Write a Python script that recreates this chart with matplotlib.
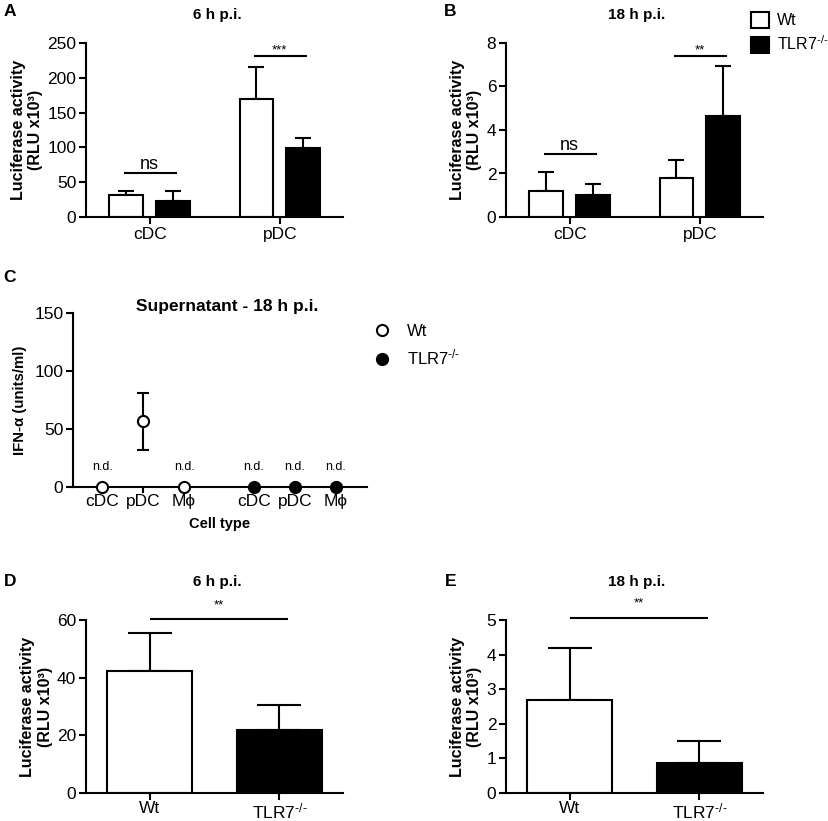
import matplotlib
matplotlib.use("Agg")
import matplotlib.pyplot as plt
from matplotlib.patches import Patch
from matplotlib.lines import Line2D
import numpy as np

plt.rcParams['font.family'] = ['Liberation Sans', 'DejaVu Sans']
plt.rcParams['mathtext.fontset'] = 'custom'
plt.rcParams['mathtext.rm'] = 'Liberation Sans'
plt.rcParams['mathtext.bf'] = 'Liberation Sans:bold'
plt.rcParams['mathtext.it'] = 'Liberation Sans:italic'

# ---------------- data ----------------
groups_ab = ["cDC", "pDC"]
a_wt = [31, 169]
a_wt_err = [7, 46]
a_ko = [23, 99]
a_ko_err = [15, 15]
a_sig = ["ns", "***"]
a_sig_y = [63, 231]
a_yticks = [0, 50, 100, 150, 200, 250]

b_wt = [1.2, 1.8]
b_wt_err = [0.85, 0.8]
b_ko = [1.0, 4.65]
b_ko_err = [0.5, 2.3]
b_sig = ["ns", "**"]
b_sig_y = [2.9, 7.4]
b_yticks = [0, 2, 4, 6, 8]

c_labels = ["cDC", "pDC", "Mϕ", "cDC", "pDC", "Mϕ"]
c_wt = [0, 57, 0]
c_wt_lo = [0, 25, 0]
c_wt_hi = [0, 24, 0]
c_ko = [0, 0, 0]
c_nd = [True, False, True, True, True, True]
c_yticks = [0, 50, 100, 150]

KO = "TLR7$^{\\mathregular{\u2010/\u2010}}$"
de_labels = ["Wt", KO]
d_vals = [42.3, 22.0]
d_err = [13.3, 8.5]
d_sig_y = 60.3
d_yticks = [0, 20, 40, 60]
e_vals = [2.7, 0.88]
e_err = [1.5, 0.62]
e_sig_y = 5.07
e_yticks = [0, 1, 2, 3, 4, 5]

W, H = 829, 821
fig = plt.figure(figsize=(W / 100, H / 100), dpi=100)

def ax_px(l, r, t, b):
    return fig.add_axes([l / W, 1 - b / H, (r - l) / W, (b - t) / H])

LW = 1.5
TS = 12.5

def style(ax):
    for s in ['top', 'right']:
        ax.spines[s].set_visible(False)
    for s in ['left', 'bottom']:
        ax.spines[s].set_linewidth(LW)
    ax.tick_params(axis='both', width=LW, length=5, labelsize=TS, direction='out', pad=2)

def ftext(x, y, s, **kw):
    fig.text(x / W, 1 - y / H, s, **kw)

ylab = "Luciferase activity\n(RLU x10³)"

def grouped(ax, wt, wte, ko, koe, sig, sigy, yt):
    x = np.arange(len(groups_ab))
    off, bw = 0.18, 0.26
    ax.bar(x - off, wt, bw, color='white', edgecolor='black', linewidth=LW, zorder=2)
    ax.bar(x + off, ko, bw, color='black', edgecolor='black', linewidth=LW, zorder=2)
    ax.errorbar(x - off, wt, yerr=[np.zeros(len(wt)), wte], fmt='none', ecolor='black',
                elinewidth=LW, capsize=6, capthick=LW, zorder=1)
    ax.errorbar(x + off, ko, yerr=[np.zeros(len(ko)), koe], fmt='none', ecolor='black',
                elinewidth=LW, capsize=6, capthick=LW, zorder=1)
    for i in range(len(x)):
        ax.plot([x[i] - off - 0.01, x[i] + off + 0.02], [sigy[i], sigy[i]], color='black', lw=LW)
        if sig[i] == "ns":
            ax.text(x[i], sigy[i], sig[i], ha='center', va='bottom', fontsize=13)
        else:
            ax.text(x[i], sigy[i], sig[i], ha='center', va='bottom', fontsize=9.5)
    ax.set_xlim(-0.49, 1.485)
    ax.set_ylim(0, yt[-1])
    ax.set_yticks(yt)
    ax.set_xticks(x)
    ax.set_xticklabels(groups_ab)
    style(ax)
    ax.set_ylabel(ylab, fontsize=11.5, fontweight='bold', labelpad=3)

# Panel A
axA = ax_px(86, 343, 43, 217)
grouped(axA, a_wt, a_wt_err, a_ko, a_ko_err, a_sig, a_sig_y, a_yticks)
# Panel B
axB = ax_px(506, 763, 43, 217)
grouped(axB, b_wt, b_wt_err, b_ko, b_ko_err, b_sig, b_sig_y, b_yticks)
handles = [Patch(facecolor='white', edgecolor='black', linewidth=LW),
           Patch(facecolor='black', edgecolor='black', linewidth=LW)]
fig.legend(handles, ["Wt", KO], loc='upper left', bbox_to_anchor=(740 / W, 1 - 1 / H),
           frameon=False, fontsize=11.5, handlelength=1.1, handleheight=1.1,
           handletextpad=0.5, labelspacing=0.4, borderpad=0.2)

# Panel C
axC = ax_px(73, 367, 313, 487)
cx = np.array([1, 2, 3, 4.7, 5.7, 6.7])
axC.errorbar(cx[:3], c_wt, yerr=[c_wt_lo, c_wt_hi], fmt='o', color='black', mfc='white',
             mec='black', mew=LW, ms=8, elinewidth=LW, capsize=4, capthick=LW,
             clip_on=False, zorder=3)
axC.plot(cx[3:], c_ko, 'o', color='black', ms=8, mew=LW, clip_on=False, zorder=3)
for i in range(len(cx)):
    if c_nd[i]:
        axC.text(cx[i], 12, "n.d.", ha='center', va='bottom', fontsize=9)
axC.set_xlim(0.29, 7.46)
axC.set_ylim(0, 150)
axC.set_yticks(c_yticks)
axC.set_xticks(cx)
axC.set_xticklabels(c_labels)
style(axC)
axC.tick_params(axis='x', length=4, pad=1)
axC.set_ylabel("IFN-α (units/ml)", fontsize=10.8, fontweight='bold', labelpad=5)
axC.set_xlabel("Cell type", fontsize=10.5, fontweight='bold', labelpad=6)
hC = [Line2D([], [], marker='o', ls='none', mfc='white', mec='black', mew=LW, ms=8),
      Line2D([], [], marker='o', ls='none', mfc='black', mec='black', mew=LW, ms=8)]
fig.legend(hC, ["Wt", KO], loc='upper left', bbox_to_anchor=(362 / W, 1 - 312 / H),
           frameon=False, fontsize=12, handlelength=1.0, handletextpad=1.0,
           labelspacing=0.55, borderpad=0.2)

def single(ax, vals, err, sigy, yt):
    x = np.arange(2)
    bw = 0.66
    ax.bar(x[0], vals[0], bw, color='white', edgecolor='black', linewidth=LW, zorder=2)
    ax.bar(x[1], vals[1], bw, color='black', edgecolor='black', linewidth=LW, zorder=2)
    ax.errorbar(x, vals, yerr=[np.zeros(2), err], fmt='none', ecolor='black',
                elinewidth=LW, capsize=16, capthick=LW, zorder=1)
    ax.plot([0.01, 1.06], [sigy, sigy], color='black', lw=LW, clip_on=False)
    ax.text(0.53, sigy + yt[-1] * 0.045, "**", ha='center', va='bottom', fontsize=9.5)
    ax.set_xlim(-0.49, 1.49)
    ax.set_ylim(0, yt[-1])
    ax.set_yticks(yt)
    ax.set_xticks(x)
    ax.set_xticklabels(de_labels)
    style(ax)
    ax.tick_params(axis='x', pad=1)
    ax.set_ylabel(ylab, fontsize=11.5, fontweight='bold', labelpad=3)

axD = ax_px(86, 343, 620, 793)
single(axD, d_vals, d_err, d_sig_y, d_yticks)
axE = ax_px(506, 763, 620, 793)
single(axE, e_vals, e_err, e_sig_y, e_yticks)

# titles and panel letters
tkw = dict(ha='center', va='center', fontsize=11, fontweight='bold')
ftext(217, 15, "6 h p.i.", **tkw)
ftext(637, 15, "18 h p.i.", **tkw)
ftext(227, 306, "Supernatant - 18 h p.i.", ha='center', va='center', fontsize=12.5, fontweight='bold')
ftext(217, 582, "6 h p.i.", **tkw)
ftext(637, 582, "18 h p.i.", **tkw)
lkw = dict(ha='center', va='center', fontsize=12.5, fontweight='bold')
ftext(10, 12, "A", **lkw)
ftext(450, 12, "B", **lkw)
ftext(10, 277, "C", **lkw)
ftext(10, 582, "D", **lkw)
ftext(451, 582, "E", **lkw)

fig.savefig("out.png", dpi=100)
